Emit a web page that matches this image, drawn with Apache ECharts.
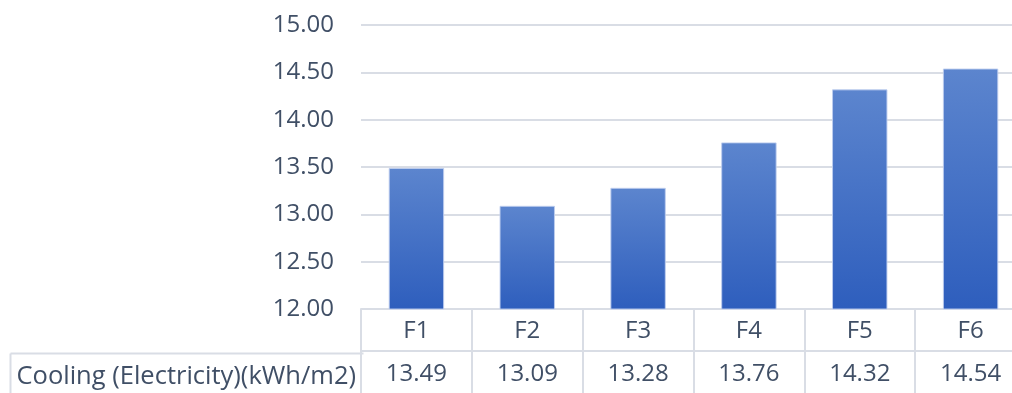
<!DOCTYPE html>
<html>
<head>
<meta charset="utf-8">
<script src="https://cdn.jsdelivr.net/npm/echarts@6/dist/echarts.min.js"></script>
<style>
  html, body { margin: 0; padding: 0; background: #fff; overflow: hidden; }
  #chart { width: 1040px; height: 393px; }
</style>
</head>
<body>
<div id="chart"></div>
<script>
// Cooling electricity per floor area for each case
const categories = ['F1', 'F2', 'F3', 'F4', 'F5', 'F6'];
const coolingValues = [13.49, 13.09, 13.28, 13.76, 14.32, 14.54];
const rowLabel = 'Cooling (Electricity)(kWh/m2)';
const yMin = 12, yMax = 15, yStep = 0.5;

const textColor = '#404F66';
const lineColor = '#D9DDE5';
const font = '"Open Sans", "Noto Sans", sans-serif';
const fontSize = 24;

const chart = echarts.init(document.getElementById('chart'), null, { renderer: 'canvas' });

chart.setOption({
  animation: false,
  grid: { left: 361, right: 14, top: 25, bottom: 84, containLabel: false },
  xAxis: [
    {
      type: 'category',
      data: categories,
      position: 'bottom',
      axisLine: { show: true, lineStyle: { color: lineColor, width: 2 } },
      axisTick: { show: true, length: 42, lineStyle: { color: lineColor, width: 2 } },
      axisLabel: { color: textColor, fontFamily: font, fontSize: fontSize, margin: 10 },
      splitLine: { show: false }
    },
    {
      // value row of the data table
      type: 'category',
      data: categories,
      position: 'bottom',
      offset: 42,
      axisLine: { show: true, lineStyle: { color: lineColor, width: 2 } },
      axisTick: { show: true, length: 42, lineStyle: { color: lineColor, width: 2 } },
      axisLabel: {
        color: textColor, fontFamily: font, fontSize: fontSize, margin: 11,
        formatter: (v, i) => coolingValues[i].toFixed(2)
      },
      splitLine: { show: false }
    }
  ],
  yAxis: {
    type: 'value',
    min: yMin, max: yMax, interval: yStep,
    axisLine: { show: false },
    axisTick: { show: false },
    axisLabel: {
      color: textColor, fontFamily: font, fontSize: fontSize, margin: 27,
      formatter: v => v.toFixed(2)
    },
    splitLine: { show: true, lineStyle: { color: lineColor, width: 2 } }
  },
  series: [{
    type: 'bar',
    xAxisIndex: 0,
    data: coolingValues,
    barWidth: '50%',
    itemStyle: {
      color: new echarts.graphic.LinearGradient(0, 0, 0, 1, [
        { offset: 0, color: '#5C85CE' },
        { offset: 1, color: '#2E5EBD' }
      ]),
      borderColor: 'rgba(190,205,238,0.9)',
      borderWidth: 1
    }
  }],
  graphic: [
    {
      // row header cell of the data table
      type: 'group',
      left: 8, top: 351,
      children: [
        { type: 'line', shape: { x1: 0, y1: 0, x2: 353, y2: 0 }, style: { stroke: lineColor, lineWidth: 2 } },
        { type: 'line', shape: { x1: 0, y1: 0, x2: 0, y2: 50 }, style: { stroke: lineColor, lineWidth: 2 } },
        {
          type: 'text', x: 6, y: 23,
          style: { text: rowLabel, fill: textColor, font: '25.5px ' + font, textVerticalAlign: 'middle' }
        }
      ]
    }
  ]
});
</script>
</body>
</html>
